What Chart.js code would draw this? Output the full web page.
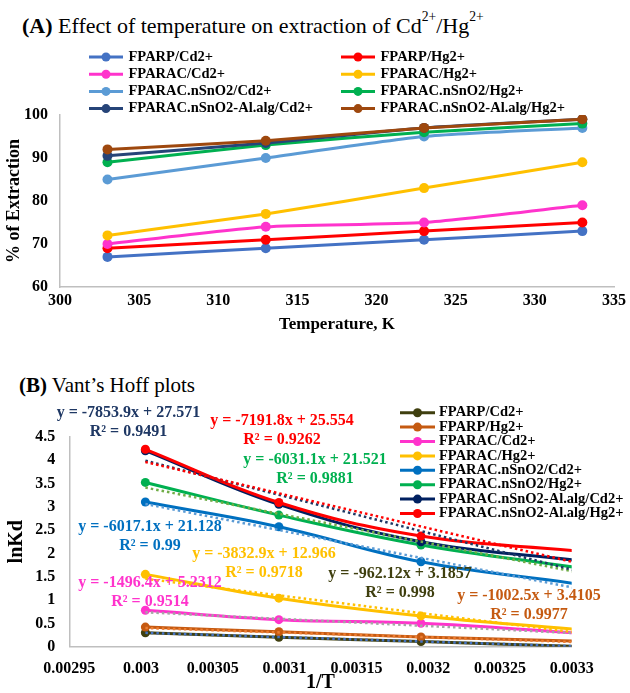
<!DOCTYPE html>
<html>
<head>
<meta charset="utf-8">
<script src="https://cdn.jsdelivr.net/npm/chart.js@4.4.1/dist/chart.umd.min.js"></script>
<style>
  body { margin: 0; background: #fff; width: 630px; height: 693px; position: relative; overflow: hidden; font-family: 'Liberation Serif', 'Times New Roman', serif; }
  .title { position: absolute; font-size: 22px; line-height: 22px; white-space: nowrap; color: #000; }
  .title sup { font-size: 0.62em; position: relative; top: -0.3em; }
  #boxA { position: absolute; left: 0; top: 0; width: 630px; height: 345px; }
  #boxB { position: absolute; left: 0; top: 360px; width: 630px; height: 333px; }
</style>
</head>
<body>
<div class="title" style="left:22px; top:10px"><b>(A)</b> Effect of temperature on extraction of Cd<sup>2+</sup>/Hg<sup>2+</sup></div>
<div class="title" style="left:19px; top:374px; font-size:21px"><b>(B)</b> Vant’s Hoff plots</div>
<div id="boxA"><canvas id="chartA"></canvas></div>
<div id="boxB"><canvas id="chartB"></canvas></div>
<script>
// (A) % extraction vs temperature
const temperature = [303, 313, 323, 333];
const seriesNames = [
  'FPARP/Cd2+', 'FPARP/Hg2+',
  'FPARAC/Cd2+', 'FPARAC/Hg2+',
  'FPARAC.nSnO2/Cd2+', 'FPARAC.nSnO2/Hg2+',
  'FPARAC.nSnO2-Al.alg/Cd2+', 'FPARAC.nSnO2-Al.alg/Hg2+',
];
const extFparpCd = [67, 69, 71, 73];
const extFparpHg = [69, 71, 73, 75];
const extFparacCd = [70, 74, 75, 79];
const extFparacHg = [72, 77, 83, 89];
const extSnO2Cd = [85, 90, 95, 97];
const extSnO2Hg = [89, 93, 96, 98];
const extAlgCd = [90.5, 93.5, 97, 99];
const extAlgHg = [92, 94, 97, 99];

// (B) lnKd vs 1/T
const invT = [0.003003, 0.003096, 0.003195, 0.0033003];
const lnKdFparpCd = [0.30, 0.20, 0.11, 0.01];
const lnKdFparpHg = [0.42, 0.32, 0.21, 0.12];
const lnKdFparacCd = [0.78, 0.58, 0.50, 0.30];
const lnKdFparacHg = [1.55, 1.04, 0.66, 0.38];
const lnKdSnO2Cd = [3.10, 2.57, 1.82, 1.36];
const lnKdSnO2Hg = [3.52, 2.82, 2.18, 1.71];
const lnKdAlgCd = [4.20, 3.05, 2.25, 1.86];
const lnKdAlgHg = [4.23, 3.09, 2.37, 2.06];

// linear trendlines (same order as seriesNames)
const trendSlope = [-962.12, -1002.5, -1496.4, -3832.9, -6017.1, -6031.1, -7853.9, -7191.8];
const trendIntercept = [3.1857, 3.4105, 5.2312, 12.966, 21.128, 21.521, 27.571, 25.554];
const trendR2 = [0.998, 0.9977, 0.9514, 0.9718, 0.99, 0.9881, 0.9491, 0.9262];

const colorsA = ['#4472C4', '#FF0000', '#FF33CC', '#FFC000', '#5B9BD5', '#00B050', '#264478', '#9E480E'];
const colorsB = ['#3F3F0F', '#C55A11', '#FF33CC', '#FFC000', '#0070C0', '#00B050', '#002060', '#FF0000'];
const trendColors = ['#4472C4', '#ED7D31', '#A5A5A5', '#FFC000', '#5B9BD5', '#70AD47', '#1F3864', '#FF0000'];
const labelColors = ['#3F3F0F', '#C55A11', '#FF33CC', '#FFC000', '#0070C0', '#00B050', '#1F3864', '#FF0000'];
// where each equation sits, in axis units (centre of the "y = ..." line)
const labelAt = [
  [0.0031804, 1.56], [0.0032702, 1.09], [0.0030062, 1.36], [0.0030856, 2.0],
  [0.0030062, 2.57], [0.0031212, 4.0], [0.0029912, 5.01], [0.0030982, 4.84],
];

const serif = "'Liberation Serif', 'Times New Roman', serif";
const tickFont = { family: serif, size: 16, weight: 'bold' };
const X_MAX_B = 0.0033;

// legend laid out in a grid, offsets relative to the chart area
const gridLegend = {
  id: 'gridLegend',
  afterDraw(chart, args, opts) {
    const { ctx, chartArea } = chart;
    const items = chart.data.datasets.filter(d => !d.trend);
    ctx.save();
    ctx.font = opts.font;
    ctx.textBaseline = 'middle';
    items.forEach((d, i) => {
      const col = i % opts.columns;
      const row = Math.floor(i / opts.columns);
      const x = chartArea.left + opts.x + col * opts.colGap;
      const y = chartArea.top + opts.y + row * opts.rowGap;
      ctx.strokeStyle = d.borderColor;
      ctx.lineWidth = 3;
      ctx.beginPath();
      ctx.moveTo(x, y);
      ctx.lineTo(x + opts.lineLen, y);
      ctx.stroke();
      ctx.fillStyle = d.borderColor;
      ctx.beginPath();
      ctx.arc(x + opts.lineLen / 2, y, 4.5, 0, Math.PI * 2);
      ctx.fill();
      ctx.fillStyle = '#000';
      ctx.fillText(d.label, x + opts.lineLen + opts.textGap, y);
    });
    ctx.restore();
  },
};

// trendline equations + R²
const trendLabels = {
  id: 'trendLabels',
  afterDatasetsDraw(chart) {
    const { ctx, scales } = chart;
    ctx.save();
    ctx.font = 'bold 16px ' + serif;
    ctx.textAlign = 'center';
    ctx.textBaseline = 'middle';
    trendSlope.forEach((m, i) => {
      const x = scales.x.getPixelForValue(labelAt[i][0]);
      const y = scales.y.getPixelForValue(labelAt[i][1]);
      ctx.fillStyle = labelColors[i];
      ctx.fillText('y = ' + m + 'x + ' + trendIntercept[i], x, y);
      ctx.fillText('R² = ' + trendR2[i], x, y + 19);
    });
    ctx.restore();
  },
};

const extSeries = [extFparpCd, extFparpHg, extFparacCd, extFparacHg, extSnO2Cd, extSnO2Hg, extAlgCd, extAlgHg];
const lnKdSeries = [lnKdFparpCd, lnKdFparpHg, lnKdFparacCd, lnKdFparacHg, lnKdSnO2Cd, lnKdSnO2Hg, lnKdAlgCd, lnKdAlgHg];

new Chart(document.getElementById('chartA'), {
  type: 'line',
  data: {
    datasets: extSeries.map((vals, i) => ({
      label: seriesNames[i],
      data: vals.map((v, j) => ({ x: temperature[j], y: v })),
      borderColor: colorsA[i],
      backgroundColor: colorsA[i],
      borderWidth: 3,
      pointRadius: 5,
      pointBorderWidth: 0,
      tension: 0.2,
      order: 10 - i,
    })),
  },
  options: {
    responsive: true,
    maintainAspectRatio: false,
    animation: false,
    layout: { padding: { top: 115, right: 13, left: 0, bottom: 0 } },
    plugins: {
      legend: { display: false },
      tooltip: { enabled: false },
      gridLegend: { font: 'bold 14.5px ' + serif, columns: 2, x: 29, y: -58, colGap: 252, rowGap: 17.2, lineLen: 34, textGap: 5.5 },
    },
    scales: {
      x: {
        type: 'linear',
        min: 300,
        max: 335,
        grid: { display: false, drawTicks: false },
        border: { color: '#BFBFBF', width: 1.5 },
        ticks: { stepSize: 5, color: '#000', font: tickFont, padding: 4, maxRotation: 0 },
        title: { display: true, text: 'Temperature, K', color: '#000', font: { family: serif, size: 17, weight: 'bold' }, padding: { top: 0, bottom: 10 } },
        afterFit: s => { s.height = 58; },
      },
      y: {
        min: 60,
        max: 100,
        grid: { display: false, drawTicks: false },
        border: { color: '#BFBFBF', width: 1.5 },
        ticks: { stepSize: 10, color: '#000', font: tickFont, padding: 12 },
        title: { display: true, text: '% of Extraction', color: '#000', font: { family: serif, size: 18, weight: 'bold' }, padding: { top: 4, bottom: 0 } },
        afterFit: s => { s.width = 60; },
      },
    },
  },
  plugins: [gridLegend],
});

const lineSets = lnKdSeries.map((vals, i) => ({
  label: seriesNames[i],
  data: vals.map((v, j) => ({ x: invT[j], y: v })),
  borderColor: colorsB[i],
  backgroundColor: colorsB[i],
  borderWidth: 3,
  pointRadius: c => (c.parsed && c.parsed.x > X_MAX_B ? 0 : 4.5),
  pointBorderWidth: 0,
  tension: 0.4,
  clip: 0,
  order: 20 - i,
}));

const trendSets = trendSlope.map((m, i) => ({
  label: seriesNames[i] + ' trend',
  trend: true,
  data: [invT[0], invT[invT.length - 1]].map(x => ({ x: x, y: m * x + trendIntercept[i] })),
  borderColor: trendColors[i],
  borderWidth: 2.5,
  borderDash: [2.5, 3],
  pointRadius: 0,
  clip: 0,
  order: 8 - i,
}));

new Chart(document.getElementById('chartB'), {
  type: 'line',
  data: { datasets: lineSets.concat(trendSets) },
  options: {
    responsive: true,
    maintainAspectRatio: false,
    animation: false,
    layout: { padding: { top: 76.7, right: 58.3, left: 0, bottom: 0 } },
    plugins: {
      legend: { display: false },
      tooltip: { enabled: false },
      gridLegend: { font: 'bold 14.5px ' + serif, columns: 1, x: 330.7, y: -24, colGap: 0, rowGap: 14.4, lineLen: 35, textGap: 4 },
    },
    scales: {
      x: {
        type: 'linear',
        min: 0.00295,
        max: X_MAX_B,
        grid: { display: false, drawTicks: false },
        border: { color: '#BFBFBF', width: 1.5 },
        ticks: {
          stepSize: 0.00005,
          color: '#000',
          font: tickFont,
          padding: 13,
          maxRotation: 0,
          autoSkip: false,
          callback: v => String(parseFloat(v.toFixed(5))),
        },
        title: { display: true, text: '1/T', color: '#000', font: { family: serif, size: 20, weight: 'bold', lineHeight: 1 }, padding: { top: 0, bottom: 0 } },
        afterFit: s => { s.height = 46.3; },
      },
      y: {
        min: 0,
        max: 4.5,
        grid: { display: false, drawTicks: false },
        border: { color: '#BFBFBF', width: 1.5 },
        ticks: { stepSize: 0.5, color: '#000', font: tickFont, padding: 14, callback: v => String(parseFloat(v.toFixed(1))) },
        title: { display: true, text: 'lnKd', color: '#000', font: { family: serif, size: 20, weight: 'bold' }, padding: { top: 5, bottom: 0 } },
        afterFit: s => { s.width = 69.3; },
      },
    },
  },
  plugins: [gridLegend, trendLabels],
});
</script>
</body>
</html>
